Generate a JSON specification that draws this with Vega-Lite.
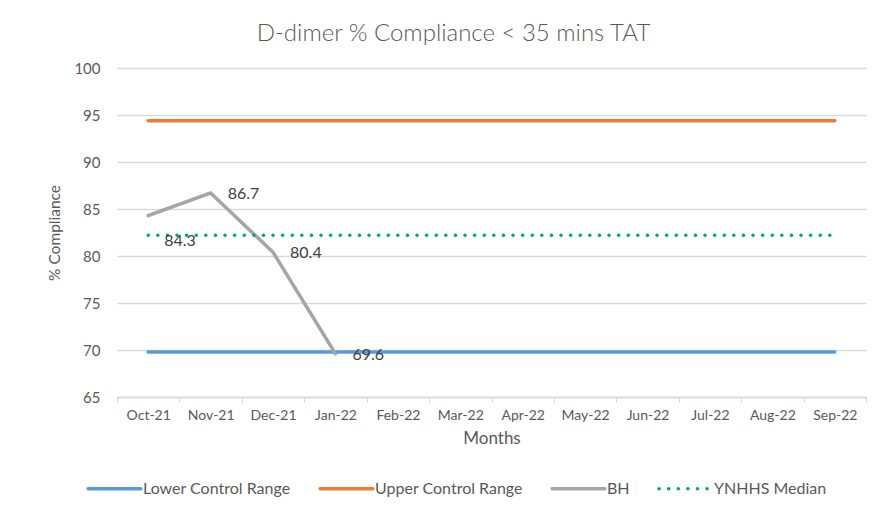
{
  "$schema": "https://vega.github.io/schema/vega-lite/v6.json",
  "width": 749,
  "height": 329,
  "autosize": {"type": "none"},
  "padding": {"left": 117, "top": 68, "right": 19, "bottom": 115},
  "background": "white",
  "title": {
    "text": "D-dimer % Compliance < 35 mins TAT",
    "font": "Lato",
    "fontSize": 24,
    "fontWeight": 300,
    "color": "#595959",
    "anchor": "middle",
    "frame": "group",
    "dx": -38,
    "offset": 15
  },
  "datasets": {
    "lines": [
      {"month": "Oct-21", "series": "Lower Control Range", "value": 69.8},
      {"month": "Nov-21", "series": "Lower Control Range", "value": 69.8},
      {"month": "Dec-21", "series": "Lower Control Range", "value": 69.8},
      {"month": "Jan-22", "series": "Lower Control Range", "value": 69.8},
      {"month": "Feb-22", "series": "Lower Control Range", "value": 69.8},
      {"month": "Mar-22", "series": "Lower Control Range", "value": 69.8},
      {"month": "Apr-22", "series": "Lower Control Range", "value": 69.8},
      {"month": "May-22", "series": "Lower Control Range", "value": 69.8},
      {"month": "Jun-22", "series": "Lower Control Range", "value": 69.8},
      {"month": "Jul-22", "series": "Lower Control Range", "value": 69.8},
      {"month": "Aug-22", "series": "Lower Control Range", "value": 69.8},
      {"month": "Sep-22", "series": "Lower Control Range", "value": 69.8},
      {"month": "Oct-21", "series": "Upper Control Range", "value": 94.4},
      {"month": "Nov-21", "series": "Upper Control Range", "value": 94.4},
      {"month": "Dec-21", "series": "Upper Control Range", "value": 94.4},
      {"month": "Jan-22", "series": "Upper Control Range", "value": 94.4},
      {"month": "Feb-22", "series": "Upper Control Range", "value": 94.4},
      {"month": "Mar-22", "series": "Upper Control Range", "value": 94.4},
      {"month": "Apr-22", "series": "Upper Control Range", "value": 94.4},
      {"month": "May-22", "series": "Upper Control Range", "value": 94.4},
      {"month": "Jun-22", "series": "Upper Control Range", "value": 94.4},
      {"month": "Jul-22", "series": "Upper Control Range", "value": 94.4},
      {"month": "Aug-22", "series": "Upper Control Range", "value": 94.4},
      {"month": "Sep-22", "series": "Upper Control Range", "value": 94.4},
      {"month": "Oct-21", "series": "BH", "value": 84.3},
      {"month": "Nov-21", "series": "BH", "value": 86.7},
      {"month": "Dec-21", "series": "BH", "value": 80.4},
      {"month": "Jan-22", "series": "BH", "value": 69.6},
      {"month": "Oct-21", "series": "YNHHS Median", "value": 82.2},
      {"month": "Nov-21", "series": "YNHHS Median", "value": 82.2},
      {"month": "Dec-21", "series": "YNHHS Median", "value": 82.2},
      {"month": "Jan-22", "series": "YNHHS Median", "value": 82.2},
      {"month": "Feb-22", "series": "YNHHS Median", "value": 82.2},
      {"month": "Mar-22", "series": "YNHHS Median", "value": 82.2},
      {"month": "Apr-22", "series": "YNHHS Median", "value": 82.2},
      {"month": "May-22", "series": "YNHHS Median", "value": 82.2},
      {"month": "Jun-22", "series": "YNHHS Median", "value": 82.2},
      {"month": "Jul-22", "series": "YNHHS Median", "value": 82.2},
      {"month": "Aug-22", "series": "YNHHS Median", "value": 82.2},
      {"month": "Sep-22", "series": "YNHHS Median", "value": 82.2}
    ]
  },
  "data": {"name": "lines"},
  "encoding": {
    "x": {
      "field": "month",
      "type": "ordinal",
      "sort": ["Oct-21","Nov-21","Dec-21","Jan-22","Feb-22","Mar-22","Apr-22","May-22","Jun-22","Jul-22","Aug-22","Sep-22"],
      "scale": {"type": "band", "paddingInner": 0, "paddingOuter": 0},
      "axis": {
        "title": "Months",
        "titleFont": "Lato",
        "titleFontSize": 17,
        "titleFontWeight": "normal",
        "titleColor": "#595959",
        "titlePadding": 8,
        "labelFont": "Lato",
        "labelFontSize": 14,
        "labelColor": "#595959",
        "labelAngle": 0,
        "labelPadding": 6,
        "tickBand": "extent",
        "tickSize": 5,
        "tickColor": "#D9D9D9",
        "domainColor": "#D9D9D9",
        "domainWidth": 1.5,
        "grid": false
      }
    },
    "y": {
      "field": "value",
      "type": "quantitative",
      "scale": {"domain": [65, 100], "nice": false, "zero": false},
      "axis": {
        "title": "% Compliance",
        "titleFont": "Lato",
        "titleFontSize": 15.5,
        "titleFontWeight": "normal",
        "titleColor": "#595959",
        "titlePadding": 11,
        "values": [65, 70, 75, 80, 85, 90, 95, 100],
        "labelFont": "Lato",
        "labelFontSize": 15,
        "labelColor": "#595959",
        "labelPadding": 17,
        "ticks": false,
        "domain": false,
        "grid": true,
        "gridColor": "#D9D9D9",
        "gridWidth": 1.5
      }
    }
  },
  "layer": [
    {
      "mark": {"type": "line", "strokeWidth": 3.5, "strokeCap": "round"},
      "encoding": {
        "color": {
          "field": "series",
          "type": "nominal",
          "scale": {
            "domain": ["Lower Control Range", "Upper Control Range", "BH", "YNHHS Median"],
            "range": ["#5B9BD5", "#ED7D31", "#A5A5A5", "#00B050"]
          },
          "legend": {
            "title": null,
            "orient": "none",
            "direction": "horizontal",
            "legendX": -31,
            "legendY": 392,
            "symbolType": "stroke",
            "symbolSize": 2800,
            "symbolStrokeWidth": 3.5,
            "labelFont": "Lato",
            "labelFontSize": 16,
            "labelColor": "#595959",
            "labelOffset": 0,
            "columnPadding": 22,
            "encode": {"symbols": {"update": {"strokeCap": {"value": "round"}}}}
          }
        },
        "strokeDash": {
          "field": "series",
          "type": "nominal",
          "scale": {
            "domain": ["Lower Control Range", "Upper Control Range", "BH", "YNHHS Median"],
            "range": [[1, 0], [1, 0], [1, 0], [0.1, 9.5]]
          },
          "legend": null
        }
      }
    },
    {
      "transform": [{"filter": "datum.series === 'BH' && datum.month !== 'Oct-21'"}],
      "mark": {"type": "text", "align": "left", "baseline": "middle", "dx": 17, "dy": 1, "font": "Lato", "fontSize": 16, "color": "#404040"},
      "encoding": {"text": {"field": "value", "type": "quantitative", "format": ".1f"}}
    },
    {
      "transform": [{"filter": "datum.series === 'BH' && datum.month === 'Oct-21'"}],
      "mark": {"type": "text", "align": "left", "baseline": "middle", "dx": 16, "dy": 25, "font": "Lato", "fontSize": 16, "color": "#404040"},
      "encoding": {"text": {"field": "value", "type": "quantitative", "format": ".1f"}}
    }
  ],
  "config": {"view": {"stroke": null}}
}
